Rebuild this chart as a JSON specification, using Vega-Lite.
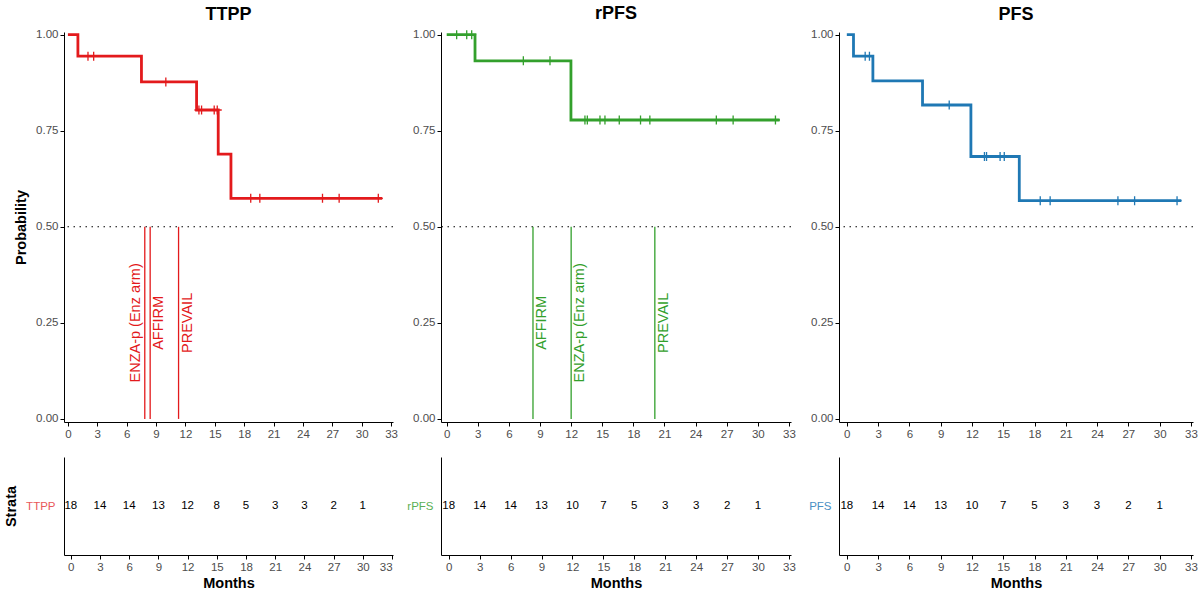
{
  "$schema": "https://vega.github.io/schema/vega-lite/v6.json",
  "padding": {"left": 3, "top": 5, "right": 5, "bottom": 5},
  "background": "white",
  "config": {
    "font": "Liberation Sans",
    "view": {"stroke": null},
    "axis": {"grid": false, "domainColor": "black", "domainWidth": 1, "tickColor": "black", "tickSize": 4, "labelColor": "#4D4D4D", "labelFontSize": 11.5, "labelPadding": 2, "titleColor": "black", "titleFontSize": 14.5, "titleFontWeight": "bold", "labelFont": "Liberation Sans", "titleFont": "Liberation Sans"},
    "title": {"fontSize": 18, "fontWeight": "bold", "color": "black", "offset": 4.5, "anchor": "middle", "font": "Liberation Sans"}
  },
  "datasets": {
    "curve": [
      {"panel": "TTPP", "t": 0, "s": 1}, {"panel": "TTPP", "t": 1.02, "s": 0.944}, {"panel": "TTPP", "t": 7.51, "s": 0.877}, {"panel": "TTPP", "t": 13.14, "s": 0.804}, {"panel": "TTPP", "t": 15.35, "s": 0.689}, {"panel": "TTPP", "t": 16.65, "s": 0.574}, {"panel": "TTPP", "t": 32.1, "s": 0.574},
      {"panel": "rPFS", "t": 0, "s": 1}, {"panel": "rPFS", "t": 2.73, "s": 0.932}, {"panel": "rPFS", "t": 11.98, "s": 0.778}, {"panel": "rPFS", "t": 32.1, "s": 0.778},
      {"panel": "PFS", "t": 0, "s": 1}, {"panel": "PFS", "t": 0.64, "s": 0.944}, {"panel": "PFS", "t": 2.5, "s": 0.88}, {"panel": "PFS", "t": 7.26, "s": 0.817}, {"panel": "PFS", "t": 11.9, "s": 0.683}, {"panel": "PFS", "t": 16.54, "s": 0.568}, {"panel": "PFS", "t": 32.08, "s": 0.568}
    ],
    "censor": [
      {"panel": "TTPP", "t": 2.05, "s": 0.944}, {"panel": "TTPP", "t": 2.63, "s": 0.944}, {"panel": "TTPP", "t": 10.0, "s": 0.877}, {"panel": "TTPP", "t": 13.38, "s": 0.804}, {"panel": "TTPP", "t": 13.65, "s": 0.804}, {"panel": "TTPP", "t": 14.94, "s": 0.804}, {"panel": "TTPP", "t": 15.25, "s": 0.804}, {"panel": "TTPP", "t": 18.67, "s": 0.574}, {"panel": "TTPP", "t": 19.6, "s": 0.574}, {"panel": "TTPP", "t": 26.0, "s": 0.574}, {"panel": "TTPP", "t": 27.7, "s": 0.574}, {"panel": "TTPP", "t": 31.7, "s": 0.574},
      {"panel": "rPFS", "t": 0.96, "s": 1}, {"panel": "rPFS", "t": 1.93, "s": 1}, {"panel": "rPFS", "t": 2.41, "s": 1}, {"panel": "rPFS", "t": 7.39, "s": 0.932}, {"panel": "rPFS", "t": 9.96, "s": 0.932}, {"panel": "rPFS", "t": 13.33, "s": 0.778}, {"panel": "rPFS", "t": 13.56, "s": 0.778}, {"panel": "rPFS", "t": 14.78, "s": 0.778}, {"panel": "rPFS", "t": 15.26, "s": 0.778}, {"panel": "rPFS", "t": 16.64, "s": 0.778}, {"panel": "rPFS", "t": 18.69, "s": 0.778}, {"panel": "rPFS", "t": 19.59, "s": 0.778}, {"panel": "rPFS", "t": 26.0, "s": 0.778}, {"panel": "rPFS", "t": 27.62, "s": 0.778}, {"panel": "rPFS", "t": 31.7, "s": 0.778},
      {"panel": "PFS", "t": 1.76, "s": 0.944}, {"panel": "PFS", "t": 2.17, "s": 0.944}, {"panel": "PFS", "t": 9.82, "s": 0.817}, {"panel": "PFS", "t": 13.2, "s": 0.683}, {"panel": "PFS", "t": 13.4, "s": 0.683}, {"panel": "PFS", "t": 14.7, "s": 0.683}, {"panel": "PFS", "t": 15.1, "s": 0.683}, {"panel": "PFS", "t": 18.55, "s": 0.568}, {"panel": "PFS", "t": 19.5, "s": 0.568}, {"panel": "PFS", "t": 26.0, "s": 0.568}, {"panel": "PFS", "t": 27.6, "s": 0.568}, {"panel": "PFS", "t": 31.67, "s": 0.568}
    ],
    "risk": [
      {"panel": "TTPP", "t": 0, "n": 18}, {"panel": "TTPP", "t": 3, "n": 14}, {"panel": "TTPP", "t": 6, "n": 14}, {"panel": "TTPP", "t": 9, "n": 13}, {"panel": "TTPP", "t": 12, "n": 12}, {"panel": "TTPP", "t": 15, "n": 8}, {"panel": "TTPP", "t": 18, "n": 5}, {"panel": "TTPP", "t": 21, "n": 3}, {"panel": "TTPP", "t": 24, "n": 3}, {"panel": "TTPP", "t": 27, "n": 2}, {"panel": "TTPP", "t": 30, "n": 1},
      {"panel": "rPFS", "t": 0, "n": 18}, {"panel": "rPFS", "t": 3, "n": 14}, {"panel": "rPFS", "t": 6, "n": 14}, {"panel": "rPFS", "t": 9, "n": 13}, {"panel": "rPFS", "t": 12, "n": 10}, {"panel": "rPFS", "t": 15, "n": 7}, {"panel": "rPFS", "t": 18, "n": 5}, {"panel": "rPFS", "t": 21, "n": 3}, {"panel": "rPFS", "t": 24, "n": 3}, {"panel": "rPFS", "t": 27, "n": 2}, {"panel": "rPFS", "t": 30, "n": 1},
      {"panel": "PFS", "t": 0, "n": 18}, {"panel": "PFS", "t": 3, "n": 14}, {"panel": "PFS", "t": 6, "n": 14}, {"panel": "PFS", "t": 9, "n": 13}, {"panel": "PFS", "t": 12, "n": 10}, {"panel": "PFS", "t": 15, "n": 7}, {"panel": "PFS", "t": 18, "n": 5}, {"panel": "PFS", "t": 21, "n": 3}, {"panel": "PFS", "t": 24, "n": 3}, {"panel": "PFS", "t": 27, "n": 2}, {"panel": "PFS", "t": 30, "n": 1}
    ]
  },
  "columns": 3,
  "bounds": "flush",
  "align": "each",
  "spacing": {"row": 35, "column": 48},
  "concat": [
    {
      "width": 329, "height": 390,
      "title": "TTPP",
      "layer": [
        {"data": {"values": [{"ref": 0.5}]}, "mark": {"type": "rule", "color": "black", "strokeWidth": 1.1, "strokeDash": [1.5, 4.5]},
         "encoding": {"y": {"field": "ref", "type": "quantitative", "scale": {"domain": [-0.008, 1.007], "nice": false, "zero": false}, "axis": {"values": [0, 0.25, 0.5, 0.75, 1], "format": ".2f", "title": "Probability", "titlePadding": 7}}}},
        {"data": {"values": [{"label": "ENZA-p (Enz arm)", "t": 7.85, "side": "left", "lo": 0, "hi": 0.5, "mid": 0.25}, {"label": "AFFIRM", "t": 8.4, "side": "right", "lo": 0, "hi": 0.5, "mid": 0.25}, {"label": "PREVAIL", "t": 11.3, "side": "right", "lo": 0, "hi": 0.5, "mid": 0.25}]},
         "layer": [
           {"mark": {"type": "rule", "color": "#E31A1C", "strokeWidth": 1.3}, "encoding": {"x": {"field": "t", "type": "quantitative", "scale": {"domain": [-0.4, 33.2], "nice": false, "zero": false}, "axis": {"values": [0, 3, 6, 9, 12, 15, 18, 21, 24, 27, 30, 33], "title": null}}, "y": {"field": "lo", "type": "quantitative"}, "y2": {"field": "hi"}}},
           {"transform": [{"filter": "datum.side == 'left'"}], "mark": {"type": "text", "color": "#E31A1C", "fontSize": 14.5, "angle": 270, "align": "center", "baseline": "middle", "dy": -9}, "encoding": {"x": {"field": "t", "type": "quantitative", "axis": {"values": [0, 3, 6, 9, 12, 15, 18, 21, 24, 27, 30, 33], "title": null}}, "y": {"field": "mid", "type": "quantitative"}, "text": {"field": "label"}}},
           {"transform": [{"filter": "datum.side == 'right'"}], "mark": {"type": "text", "color": "#E31A1C", "fontSize": 14.5, "angle": 270, "align": "center", "baseline": "middle", "dy": 9}, "encoding": {"x": {"field": "t", "type": "quantitative", "axis": {"values": [0, 3, 6, 9, 12, 15, 18, 21, 24, 27, 30, 33], "title": null}}, "y": {"field": "mid", "type": "quantitative"}, "text": {"field": "label"}}}
         ]},
        {"data": {"name": "curve"}, "transform": [{"filter": "datum.panel == 'TTPP'"}], "mark": {"type": "line", "interpolate": "step-after", "color": "#E31A1C", "strokeWidth": 2.8},
         "encoding": {"x": {"field": "t", "type": "quantitative", "axis": {"values": [0, 3, 6, 9, 12, 15, 18, 21, 24, 27, 30, 33], "title": null}}, "y": {"field": "s", "type": "quantitative"}}},
        {"data": {"name": "censor"}, "transform": [{"filter": "datum.panel == 'TTPP'"}], "mark": {"type": "point", "shape": "M0,-1V1M-1,0H1", "filled": false, "color": "#E31A1C", "strokeWidth": 1.3, "size": 81, "opacity": 1},
         "encoding": {"x": {"field": "t", "type": "quantitative", "axis": {"values": [0, 3, 6, 9, 12, 15, 18, 21, 24, 27, 30, 33], "title": null}}, "y": {"field": "s", "type": "quantitative"}}}
      ]
    },
    {
      "width": 350, "height": 390,
      "title": "rPFS",
      "layer": [
        {"data": {"values": [{"ref": 0.5}]}, "mark": {"type": "rule", "color": "black", "strokeWidth": 1.1, "strokeDash": [1.5, 4.5]},
         "encoding": {"y": {"field": "ref", "type": "quantitative", "scale": {"domain": [-0.008, 1.007], "nice": false, "zero": false}, "axis": {"values": [0, 0.25, 0.5, 0.75, 1], "format": ".2f", "title": null}}}},
        {"data": {"values": [{"label": "AFFIRM", "t": 8.32, "lo": 0, "hi": 0.5, "mid": 0.25}, {"label": "ENZA-p (Enz arm)", "t": 12.0, "lo": 0, "hi": 0.5, "mid": 0.25}, {"label": "PREVAIL", "t": 20.07, "lo": 0, "hi": 0.5, "mid": 0.25}]},
         "layer": [
           {"mark": {"type": "rule", "color": "#33A02C", "strokeWidth": 1.3}, "encoding": {"x": {"field": "t", "type": "quantitative", "scale": {"domain": [-0.55, 33.2], "nice": false, "zero": false}, "axis": {"values": [0, 3, 6, 9, 12, 15, 18, 21, 24, 27, 30, 33], "title": null}}, "y": {"field": "lo", "type": "quantitative"}, "y2": {"field": "hi"}}},
           {"mark": {"type": "text", "color": "#33A02C", "fontSize": 14.5, "angle": 270, "align": "center", "baseline": "middle", "dy": 9}, "encoding": {"x": {"field": "t", "type": "quantitative", "axis": {"values": [0, 3, 6, 9, 12, 15, 18, 21, 24, 27, 30, 33], "title": null}}, "y": {"field": "mid", "type": "quantitative"}, "text": {"field": "label"}}}
         ]},
        {"data": {"name": "curve"}, "transform": [{"filter": "datum.panel == 'rPFS'"}], "mark": {"type": "line", "interpolate": "step-after", "color": "#33A02C", "strokeWidth": 2.8},
         "encoding": {"x": {"field": "t", "type": "quantitative", "axis": {"values": [0, 3, 6, 9, 12, 15, 18, 21, 24, 27, 30, 33], "title": null}}, "y": {"field": "s", "type": "quantitative"}}},
        {"data": {"name": "censor"}, "transform": [{"filter": "datum.panel == 'rPFS'"}], "mark": {"type": "point", "shape": "M0,-1V1M-1,0H1", "filled": false, "color": "#33A02C", "strokeWidth": 1.3, "size": 81, "opacity": 1},
         "encoding": {"x": {"field": "t", "type": "quantitative", "axis": {"values": [0, 3, 6, 9, 12, 15, 18, 21, 24, 27, 30, 33], "title": null}}, "y": {"field": "s", "type": "quantitative"}}}
      ]
    },
    {
      "width": 354, "height": 390,
      "title": "PFS",
      "layer": [
        {"data": {"values": [{"ref": 0.5}]}, "mark": {"type": "rule", "color": "black", "strokeWidth": 1.1, "strokeDash": [1.5, 4.5]},
         "encoding": {"y": {"field": "ref", "type": "quantitative", "scale": {"domain": [-0.008, 1.007], "nice": false, "zero": false}, "axis": {"values": [0, 0.25, 0.5, 0.75, 1], "format": ".2f", "title": null}}}},
        {"data": {"name": "curve"}, "transform": [{"filter": "datum.panel == 'PFS'"}], "mark": {"type": "line", "interpolate": "step-after", "color": "#1F78B4", "strokeWidth": 2.8},
         "encoding": {"x": {"field": "t", "type": "quantitative", "scale": {"domain": [-0.75, 33.2], "nice": false, "zero": false}, "axis": {"values": [0, 3, 6, 9, 12, 15, 18, 21, 24, 27, 30, 33], "title": null}}, "y": {"field": "s", "type": "quantitative"}}},
        {"data": {"name": "censor"}, "transform": [{"filter": "datum.panel == 'PFS'"}], "mark": {"type": "point", "shape": "M0,-1V1M-1,0H1", "filled": false, "color": "#1F78B4", "strokeWidth": 1.3, "size": 81, "opacity": 1},
         "encoding": {"x": {"field": "t", "type": "quantitative", "axis": {"values": [0, 3, 6, 9, 12, 15, 18, 21, 24, 27, 30, 33], "title": null}}, "y": {"field": "s", "type": "quantitative"}}}
      ]
    },
    {
      "width": 329, "height": 98,
      "data": {"name": "risk"},
      "transform": [{"filter": "datum.panel == 'TTPP'"}],
      "mark": {"type": "text", "fontSize": 11.5, "color": "black"},
      "encoding": {
        "x": {"field": "t", "type": "quantitative", "scale": {"domain": [-0.7, 33.1], "nice": false, "zero": false}, "axis": {"values": [0, 3, 6, 9, 12, 15, 18, 21, 24, 27, 30, 33], "title": "Months", "titlePadding": 4}},
        "y": {"field": "panel", "type": "nominal", "axis": {"title": "Strata", "ticks": false, "labelPadding": 9, "labelColor": "#E8585A", "labelFontSize": 11.5, "titlePadding": 7}},
        "text": {"field": "n", "type": "quantitative"}
      }
    },
    {
      "width": 350, "height": 98,
      "data": {"name": "risk"},
      "transform": [{"filter": "datum.panel == 'rPFS'"}],
      "mark": {"type": "text", "fontSize": 11.5, "color": "black"},
      "encoding": {
        "x": {"field": "t", "type": "quantitative", "scale": {"domain": [-0.75, 33.2], "nice": false, "zero": false}, "axis": {"values": [0, 3, 6, 9, 12, 15, 18, 21, 24, 27, 30, 33], "title": "Months", "titlePadding": 4}},
        "y": {"field": "panel", "type": "nominal", "axis": {"title": null, "ticks": false, "labelPadding": 8, "labelColor": "#5BB055", "labelFontSize": 11.5}},
        "text": {"field": "n", "type": "quantitative"}
      }
    },
    {
      "width": 354, "height": 98,
      "data": {"name": "risk"},
      "transform": [{"filter": "datum.panel == 'PFS'"}],
      "mark": {"type": "text", "fontSize": 11.5, "color": "black"},
      "encoding": {
        "x": {"field": "t", "type": "quantitative", "scale": {"domain": [-0.75, 33.2], "nice": false, "zero": false}, "axis": {"values": [0, 3, 6, 9, 12, 15, 18, 21, 24, 27, 30, 33], "title": "Months", "titlePadding": 4}},
        "y": {"field": "panel", "type": "nominal", "axis": {"title": null, "ticks": false, "labelPadding": 8, "labelColor": "#4A8FC4", "labelFontSize": 11.5}},
        "text": {"field": "n", "type": "quantitative"}
      }
    }
  ]
}
